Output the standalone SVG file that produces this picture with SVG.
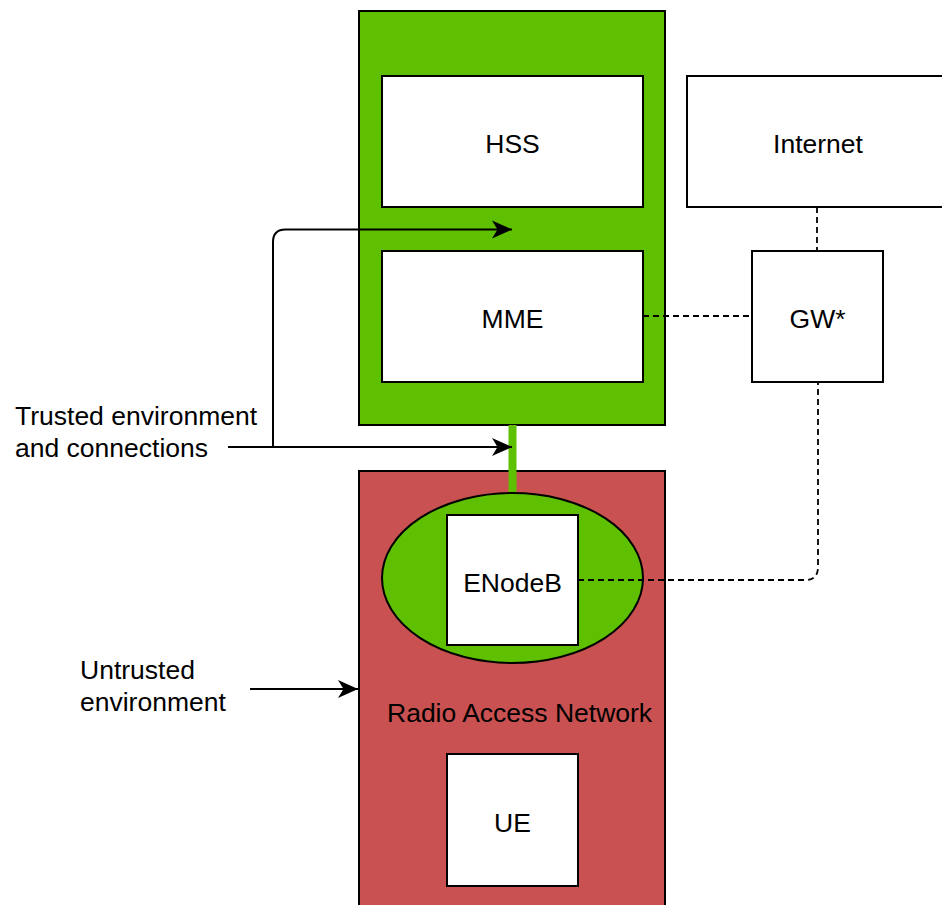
<svg xmlns="http://www.w3.org/2000/svg" width="942" height="905" viewBox="0 0 942 905">
  <style>
    .box { fill: #ffffff; stroke: #000000; stroke-width: 2; }
    .trusted { fill: #5ec000; stroke: #000000; stroke-width: 2; }
    .untrusted { fill: #c95151; stroke: #000000; stroke-width: 2; }
    .label { font-family: "Liberation Sans", Arial, sans-serif; font-size: 26.5px; fill: #000000; }
    .mid { text-anchor: middle; }
    .link { fill: none; stroke: #000000; stroke-width: 2; }
    .dash { fill: none; stroke: #000000; stroke-width: 1.8; stroke-dasharray: 6 4; }
  </style>
  <defs>
    <marker id="arrow" markerUnits="userSpaceOnUse" markerWidth="22" markerHeight="20" refX="20" refY="10" orient="auto">
      <path d="M20,10 L0,1 L5.5,10 L0,19 Z" fill="#000000"/>
    </marker>
  </defs>

  <!-- trusted core network -->
  <g id="core">
    <rect class="trusted" x="359" y="11" width="306" height="414"/>
  </g>
  <g id="hss">
    <rect class="box" x="382" y="76" width="261" height="131"/>
    <text class="label mid" x="512.5" y="153">HSS</text>
  </g>
  <g id="mme">
    <rect class="box" x="382" y="251" width="261" height="131"/>
    <text class="label mid" x="512.5" y="328">MME</text>
  </g>

  <!-- external network -->
  <g id="internet">
    <rect class="box" x="687" y="76" width="262" height="131"/>
    <text class="label mid" x="818" y="153">Internet</text>
  </g>
  <g id="gw">
    <rect class="box" x="752" y="251" width="131" height="131"/>
    <text class="label mid" x="817.5" y="328">GW*</text>
  </g>

  <!-- radio access network -->
  <g id="ran">
    <rect class="untrusted" x="359" y="471" width="306" height="450"/>
    <text class="label" x="387" y="722">Radio Access Network</text>
  </g>

  <!-- connectors -->
  <g id="connectors">
    <line x1="512.5" y1="425" x2="512.5" y2="495" stroke="#5ec000" stroke-width="8"/>
    <path class="dash" d="M817,207 L817,251"/>
    <path class="dash" d="M643,316 L752,316"/>
    <path class="dash" d="M578,580 L805,580 Q818,580 818,567 L818,382"/>
    <path class="link" d="M228,447 L512,447" marker-end="url(#arrow)"/>
    <path class="link" d="M273,447 L273,242 Q273,229.5 285.5,229.5 L512,229.5" marker-end="url(#arrow)"/>
    <path class="link" d="M250,689 L358,689" marker-end="url(#arrow)"/>
  </g>

  <g id="enodeb-zone">
    <ellipse class="trusted" cx="512.5" cy="578" rx="130.5" ry="85" stroke-width="1.5"/>
  </g>
  <g id="enodeb">
    <rect class="box" x="447" y="515" width="131" height="130"/>
    <text class="label mid" x="512.5" y="592">ENodeB</text>
  </g>
  <path class="dash" d="M578,580 L643,580"/>
  <g id="ue">
    <rect class="box" x="447" y="754" width="131" height="132"/>
    <text class="label mid" x="512.5" y="832">UE</text>
  </g>

  <!-- annotations -->
  <g id="trusted-label">
    <text class="label" x="15" y="425">Trusted environment</text>
    <text class="label" x="15" y="457">and connections</text>
  </g>
  <g id="untrusted-label">
    <text class="label" x="80" y="679">Untrusted</text>
    <text class="label" x="80" y="711">environment</text>
  </g>
</svg>
